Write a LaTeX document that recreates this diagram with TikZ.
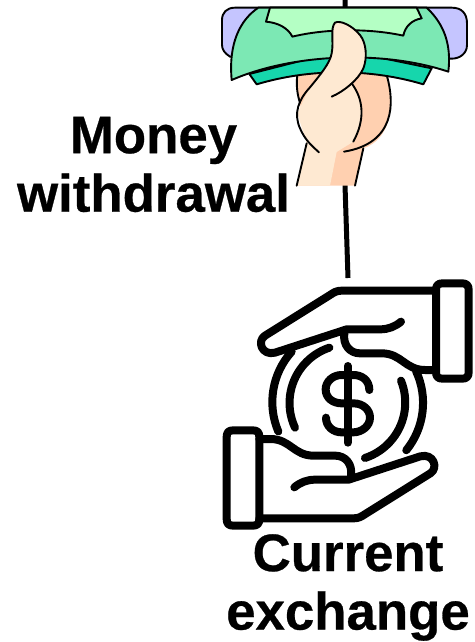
\documentclass[tikz,border=0pt]{standalone}
\usepackage{fontspec}
\setmainfont[BoldFeatures={FakeBold=0.5}]{Liberation Sans}
\definecolor{lav}{HTML}{C5C5FF}
\definecolor{billmid}{HTML}{7CE8B4}
\definecolor{billlight}{HTML}{B4FFC4}
\definecolor{billdark}{HTML}{16D6AC}
\definecolor{skinlight}{HTML}{FEE9D2}
\definecolor{skindark}{HTML}{FFD0B0}
\tikzset{
  label text/.style={font=\bfseries\fontsize{52.8}{58.5}\selectfont,align=center,inner sep=0pt,text=black},
  edge line/.style={line width=5pt,black},
  art/.style={line width=1.9pt,black,line join=round,line cap=round},
  icon/.style={line width=8pt,black,line join=round,line cap=round},
}
\newcommand{\handstroke}{%
  \draw[icon] (698,40) -- (756,40) .. controls (770,40) and (776,46) .. (776,60) -- (776,306) .. controls (776,320) and (770,326) .. (756,326) -- (698,326) .. controls (684,326) and (678,320) .. (678,306) -- (678,60) .. controls (678,46) and (684,40) .. (698,40) -- cycle;
  \draw[icon] (678,62) -- (395,62) .. controls (380,62) and (372,67) .. (360,75) -- (165,197) .. controls (140,213) and (155,258) .. (195,248) -- (410,178) -- (510,178) .. controls (535,178) and (555,170) .. (573,155);
  \draw[icon] (403,190) .. controls (398,225) and (420,250) .. (450,250) -- (515,250) .. controls (575,250) and (585,300) .. (645,300) -- (678,300);
}
\begin{document}
\begin{tikzpicture}[x=1pt,y=-1pt]
\useasboundingbox (0,0) rectangle (474,642);
\coordinate (linetop) at (345,0);
\coordinate (linebend) at (345,185);
\coordinate (lineend) at (348,278);
\draw[edge line] (linetop) -- (linebend) -- (lineend);
% money in hand
\begin{scope}[shift={(210,0)},scale=1/3]
  \filldraw[art,fill=lav] (75,23) -- (725,23) .. controls (755,23) and (771,40) .. (771,70) -- (771,135) .. controls (771,160) and (750,176) .. (725,176) -- (60,170) .. controls (45,160) and (36,150) .. (36,135) -- (36,60) .. controls (36,38) and (50,23) .. (75,23) -- cycle;
  \fill[skindark] (262,215) .. controls (258,250) and (262,280) .. (270,310) -- (290,430) -- (260,557) -- (435,557) -- (460,445) .. controls (535,420) and (560,330) .. (530,215) -- cycle;
  \fill[skinlight] (425,250) .. controls (462,300) and (465,360) .. (430,425) -- (380,456) -- (360,557) -- (260,557) -- (290,430) -- (262,340) -- (300,260) -- cycle;
  \draw[art] (262,225) .. controls (258,255) and (262,285) .. (270,308);
  \draw[art] (530,225) .. controls (555,310) and (555,430) .. (402,455);
  \draw[art] (290,430) -- (260,557);
  \draw[art] (460,445) -- (435,557);
  \filldraw[art,fill=billdark] (118,222) -- (140,253) .. controls (300,205) and (480,205) .. (640,253) -- (665,205) -- (400,150) -- cycle;
  \filldraw[art,fill=billmid] (145,23) .. controls (90,60) and (55,130) .. (65,240) .. controls (250,160) and (520,150) .. (715,215) .. controls (725,130) and (700,70) .. (650,23) -- cycle;
  \filldraw[art,fill=billlight] (180,23) -- (168,65) .. controls (205,68) and (235,85) .. (247,110) .. controls (350,85) and (480,85) .. (580,107) .. controls (585,80) and (605,60) .. (635,55) -- (620,23) -- cycle;
  \fill[skinlight] (375,68) .. controls (390,60) and (425,75) .. (450,105) .. controls (470,130) and (472,175) .. (460,205) .. controls (450,225) and (440,240) .. (425,252) -- (300,262) .. controls (330,225) and (360,190) .. (365,160) .. controls (372,125) and (360,85) .. (375,68) -- cycle;
  \draw[art] (365,290) .. controls (400,275) and (445,240) .. (460,205) .. controls (472,175) and (470,130) .. (450,105) .. controls (425,75) and (390,60) .. (375,68) .. controls (360,85) and (372,125) .. (365,160) .. controls (360,190) and (330,225) .. (300,262) .. controls (265,300) and (250,340) .. (270,385) .. controls (285,420) and (305,437) .. (327,457);
  \draw[art] (425,250) .. controls (462,300) and (465,360) .. (430,425);
\end{scope}
% coin between hands
\begin{scope}[shift={(210,270)},scale=1/3]
  \handstroke
  \begin{scope}[rotate around={180:(413,403.5)}]
    \handstroke
  \end{scope}
  \draw[icon] (245,245) arc[start angle=-138,end angle=-203,radius=226];
  \draw[icon] (618,303) arc[start angle=-25,end angle=39,radius=226];
  \draw[icon] (358,233) arc[start angle=-108.5,end angle=-205,radius=175];
  \draw[icon] (573,332) arc[start angle=-22,end angle=72,radius=175];
  \draw[icon] (413,288) -- (413,518);
  \draw[icon] (478,360) .. controls (478,330) and (455,315) .. (430,315) -- (395,315) .. controls (368,315) and (347,335) .. (347,358) .. controls (347,385) and (370,400) .. (395,400) -- (430,400) .. controls (460,400) and (480,420) .. (480,443) .. controls (480,468) and (455,487) .. (430,487) -- (395,487) .. controls (370,487) and (348,470) .. (348,443);
\end{scope}
\node[label text] (withdrawal) at (153.5,164.5) {Money\\withdrawal};
\node[label text] (exchange) at (348,587.5) {Current\\exchange};
\end{tikzpicture}
\end{document}
